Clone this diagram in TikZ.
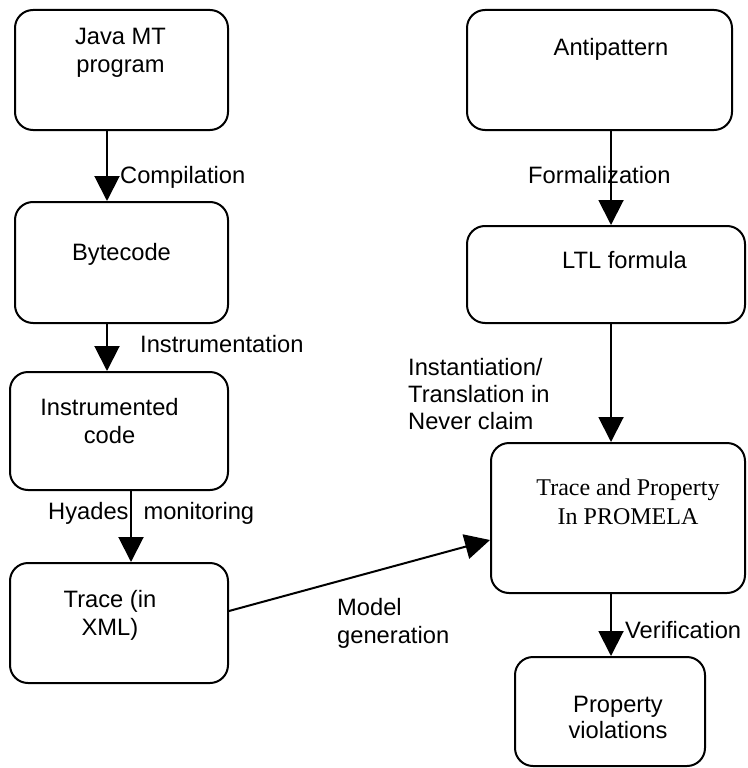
\documentclass[tikz,border=0pt]{standalone}
\usepackage{fontspec}
\setmainfont{Liberation Sans}
\newfontfamily\timesfont{Liberation Serif}
\usetikzlibrary{arrows.meta}

\begin{document}
\begin{tikzpicture}[x=1pt,y=-1pt,
  box/.style={draw, line width=2pt, rounded corners=18pt, inner sep=0pt},
  txt/.style={inner sep=0pt, font=\fontsize{23.7}{28}\selectfont, align=center, anchor=base},
  lbl/.style={inner sep=0pt, font=\fontsize{23.7}{28}\selectfont, align=left, anchor=base west},
  flow/.style={line width=2pt, -{Triangle[length=25pt,width=25pt]}}]

\useasboundingbox (0,0) rectangle (747,768);

% process boxes
\node[box, minimum width=213pt, minimum height=120pt] (java)  at (121.5,70)   {};
\node[box, minimum width=213pt, minimum height=121pt] (byte)  at (121.5,262.5) {};
\node[box, minimum width=218pt, minimum height=118pt] (instr) at (119,431)    {};
\node[box, minimum width=218pt, minimum height=120pt] (trace) at (119,623)    {};
\node[box, minimum width=265pt, minimum height=120pt] (anti)  at (599.5,70)   {};
\node[box, minimum width=278pt, minimum height=97pt]  (ltl)   at (606,274.5)  {};
\node[box, minimum width=254pt, minimum height=150pt] (prom)  at (618,518)    {};
\node[box, minimum width=190pt, minimum height=109pt] (prop)  at (610,711.5)  {};

% box texts (multi-line nodes sit on the baseline of their last line)
\node[txt] (javaT)  at (120.5,72) {Java MT\\program};
\node[txt] (byteT)  at (121.5,260) {Bytecode};
\node[txt] (instrT) at (109.5,443) {Instrumented\\code};
\node[txt] (traceT) at (110,635) {Trace (in\\XML)};
\node[txt] (antiT)  at (611,56) {Antipattern};
\node[txt] (ltlT)   at (624.5,268) {LTL formula};
\node[txt, font=\timesfont\fontsize{24}{29}\selectfont] (promT) at (628,524) {Trace and Property\\In PROMELA};
\node[txt, font=\fontsize{23.7}{26}\selectfont] (propT) at (618,738) {Property\\violations};

% connectors
\draw[flow] ([xshift=-14.5pt]java.south) -- ([xshift=-14.5pt]byte.north);
\draw[flow] ([xshift=-14.5pt]byte.south) -- ([xshift=-12pt]instr.north);
\draw[flow] ([xshift=12pt]instr.south) -- ([xshift=12pt]trace.north);
\draw[flow] ([xshift=11.5pt]anti.south) -- ([xshift=5pt]ltl.north);
\draw[flow] ([xshift=5pt]ltl.south) -- ([xshift=-7pt]prom.north);
\draw[flow] ([yshift=12pt]trace.east) -- ([yshift=-22pt]prom.west);
\draw[flow] ([xshift=-7pt]prom.south) -- ([xshift=1pt]prop.north);

% connector labels
\node[lbl] (compL)  at (120,183) {Compilation};
\node[lbl] (instL)  at (140,352) {Instrumentation};
\node[lbl] (hyadL)  at (48,519)  {Hyades\hspace{15pt}monitoring};
\node[lbl] (formL)  at (528,183) {Formalization};
\node[lbl, font=\fontsize{23.7}{27}\selectfont] (neverL) at (408,429) {Instantiation/\\Translation in\\Never claim};
\node[lbl] (modelL) at (337,643) {Model\\generation};
\node[lbl] (verL)   at (625,638) {Verification};
\end{tikzpicture}
\end{document}
